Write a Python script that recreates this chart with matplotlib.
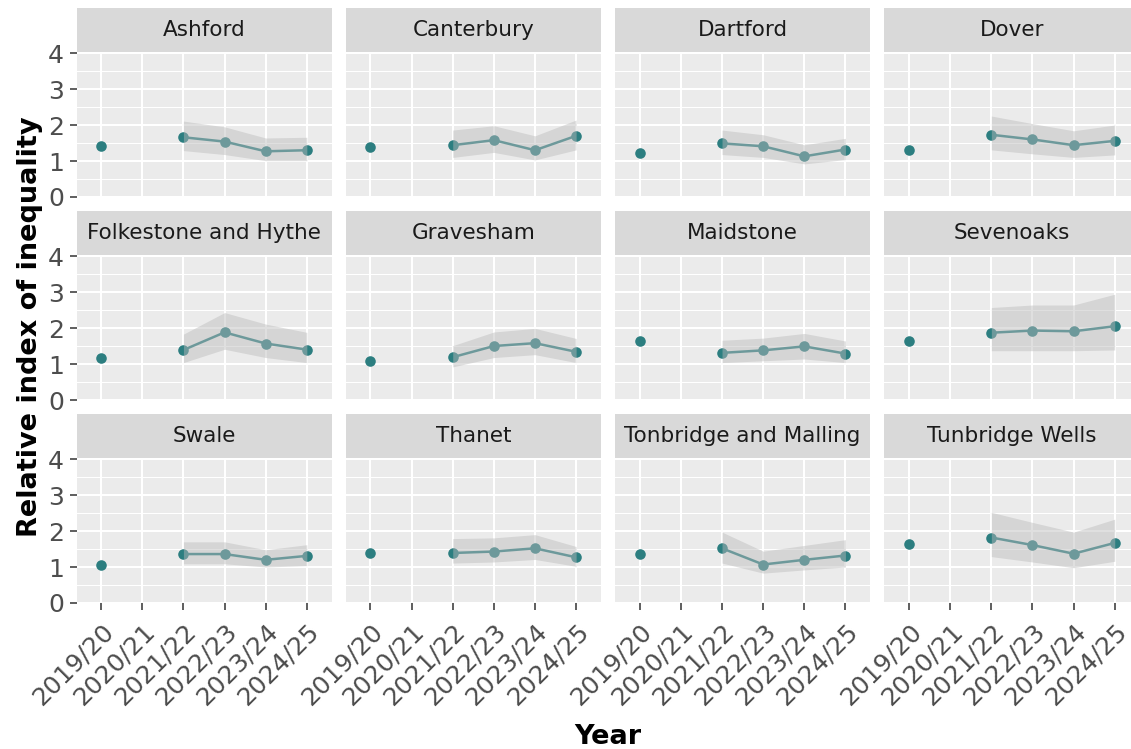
import numpy as np
import matplotlib
matplotlib.use("Agg")
import matplotlib.pyplot as plt

# Data
years = ["2019/20", "2020/21", "2021/22", "2022/23", "2023/24", "2024/25"]
areas = ["Ashford", "Canterbury", "Dartford", "Dover",
         "Folkestone and Hythe", "Gravesham", "Maidstone", "Sevenoaks",
         "Swale", "Thanet", "Tonbridge and Malling", "Tunbridge Wells"]

nan = np.nan
rii = {
    "Ashford":               [1.43, nan, 1.66, 1.54, 1.27, 1.30],
    "Canterbury":            [1.40, nan, 1.44, 1.58, 1.30, 1.70],
    "Dartford":              [1.23, nan, 1.49, 1.41, 1.13, 1.32],
    "Dover":                 [1.32, nan, 1.73, 1.60, 1.44, 1.56],
    "Folkestone and Hythe":  [1.18, nan, 1.39, 1.88, 1.57, 1.40],
    "Gravesham":             [1.08, nan, 1.19, 1.50, 1.58, 1.34],
    "Maidstone":             [1.64, nan, 1.31, 1.38, 1.49, 1.29],
    "Sevenoaks":             [1.63, nan, 1.87, 1.93, 1.91, 2.05],
    "Swale":                 [1.06, nan, 1.36, 1.36, 1.20, 1.31],
    "Thanet":                [1.40, nan, 1.39, 1.43, 1.52, 1.27],
    "Tonbridge and Malling": [1.35, nan, 1.52, 1.07, 1.20, 1.32],
    "Tunbridge Wells":       [1.64, nan, 1.82, 1.61, 1.37, 1.67],
}
rii_lower = {
    "Ashford":               [nan, nan, 1.29, 1.18, 1.01, 1.01],
    "Canterbury":            [nan, nan, 1.10, 1.24, 1.03, 1.31],
    "Dartford":              [nan, nan, 1.18, 1.10, 0.92, 1.04],
    "Dover":                 [nan, nan, 1.31, 1.20, 1.10, 1.17],
    "Folkestone and Hythe":  [nan, nan, 1.04, 1.41, 1.18, 1.04],
    "Gravesham":             [nan, nan, 0.92, 1.18, 1.26, 1.04],
    "Maidstone":             [nan, nan, 1.04, 1.09, 1.14, 1.04],
    "Sevenoaks":             [nan, nan, 1.37, 1.37, 1.37, 1.39],
    "Swale":                 [nan, nan, 1.09, 1.09, 1.00, 1.04],
    "Thanet":                [nan, nan, 1.11, 1.14, 1.21, 1.02],
    "Tonbridge and Malling": [nan, nan, 1.11, 0.83, 0.92, 1.00],
    "Tunbridge Wells":       [nan, nan, 1.29, 1.14, 0.98, 1.16],
}
rii_upper = {
    "Ashford":               [nan, nan, 2.11, 1.95, 1.64, 1.66],
    "Canterbury":            [nan, nan, 1.86, 1.98, 1.70, 2.14],
    "Dartford":              [nan, nan, 1.86, 1.73, 1.45, 1.63],
    "Dover":                 [nan, nan, 2.25, 2.04, 1.84, 2.00],
    "Folkestone and Hythe":  [nan, nan, 1.83, 2.43, 2.11, 1.88],
    "Gravesham":             [nan, nan, 1.51, 1.89, 1.99, 1.71],
    "Maidstone":             [nan, nan, 1.66, 1.72, 1.85, 1.64],
    "Sevenoaks":             [nan, nan, 2.57, 2.64, 2.64, 2.94],
    "Swale":                 [nan, nan, 1.70, 1.70, 1.48, 1.62],
    "Thanet":                [nan, nan, 1.79, 1.81, 1.90, 1.57],
    "Tonbridge and Malling": [nan, nan, 1.97, 1.44, 1.60, 1.76],
    "Tunbridge Wells":       [nan, nan, 2.52, 2.24, 1.97, 2.33],
}

# Layout in pixels (figure is 1131 x 749 at 100 dpi)
W, H = 1131, 749
col_left = [76.5, 345.8, 615.1, 884.4]
panel_w = 255
row_top = [52, 255, 458]
panel_h = 145
strip_h = 44

teal = "#2C7E80"
panel_bg = "#EBEBEB"
strip_bg = "#D9D9D9"
tick_col = "#4D4D4D"

fig = plt.figure(figsize=(W / 100, H / 100), dpi=100)
x = np.arange(len(years))

for i, area in enumerate(areas):
    r, c = divmod(i, 4)
    left = col_left[c] / W
    bottom = (H - row_top[r] - panel_h) / H
    ax = fig.add_axes([left, bottom, panel_w / W, panel_h / H])
    ax.set_facecolor(panel_bg)
    for s in ax.spines.values():
        s.set_visible(False)

    vals = np.array(rii[area])
    lo = np.array(rii_lower[area])
    hi = np.array(rii_upper[area])

    ax.plot(x, vals, color=teal, lw=1.8, zorder=3)
    ax.scatter(x, vals, s=58, color=teal, zorder=4, linewidths=0)
    ok = ~np.isnan(lo)
    ax.fill_between(x[ok], lo[ok], hi[ok], color="#BBBBBB", alpha=0.46,
                    linewidth=0, zorder=5)

    ax.set_xlim(-0.6, len(years) - 0.4)
    ax.set_ylim(0, 4.03)
    ax.set_yticks([0, 1, 2, 3, 4])
    ax.set_yticks([0.5, 1.5, 2.5, 3.5], minor=True)
    ax.set_xticks(x)
    ax.grid(which="major", color="white", lw=1.5, zorder=0)
    ax.grid(which="minor", axis="y", color="white", lw=0.75, zorder=0)
    ax.set_axisbelow(True)
    ax.tick_params(which="minor", length=0)
    ax.tick_params(which="major", length=5, width=1.1, color="#333333",
                   labelsize=18, labelcolor=tick_col)
    ax.tick_params(axis="y", pad=4)
    ax.tick_params(axis="x", pad=7)

    if c == 0:
        ax.set_yticklabels(["0", "1", "2", "3", "4"])
    else:
        ax.tick_params(axis="y", length=0, labelleft=False)
    if r == 2:
        ax.set_xticklabels(years, rotation=45, ha="right", va="top",
                           rotation_mode="anchor")
    else:
        ax.tick_params(axis="x", length=0, labelbottom=False)

    # facet strip
    sax = fig.add_axes([left, (H - row_top[r]) / H, panel_w / W, strip_h / H])
    sax.set_facecolor(strip_bg)
    sax.set_xticks([])
    sax.set_yticks([])
    for s in sax.spines.values():
        s.set_visible(False)
    sax.text(0.5, 0.5, area, ha="center", va="center", fontsize=15.5,
             color="#1A1A1A", transform=sax.transAxes)

fig.text(30 / W, 1 - 327 / H, "Relative index of inequality", rotation=90,
         ha="center", va="center", fontsize=19.5, fontweight="bold")
fig.text(608 / W, 1 - 737 / H, "Year", ha="center", va="center",
         fontsize=19.5, fontweight="bold")

fig.savefig("out.png", dpi=100, facecolor="white")
